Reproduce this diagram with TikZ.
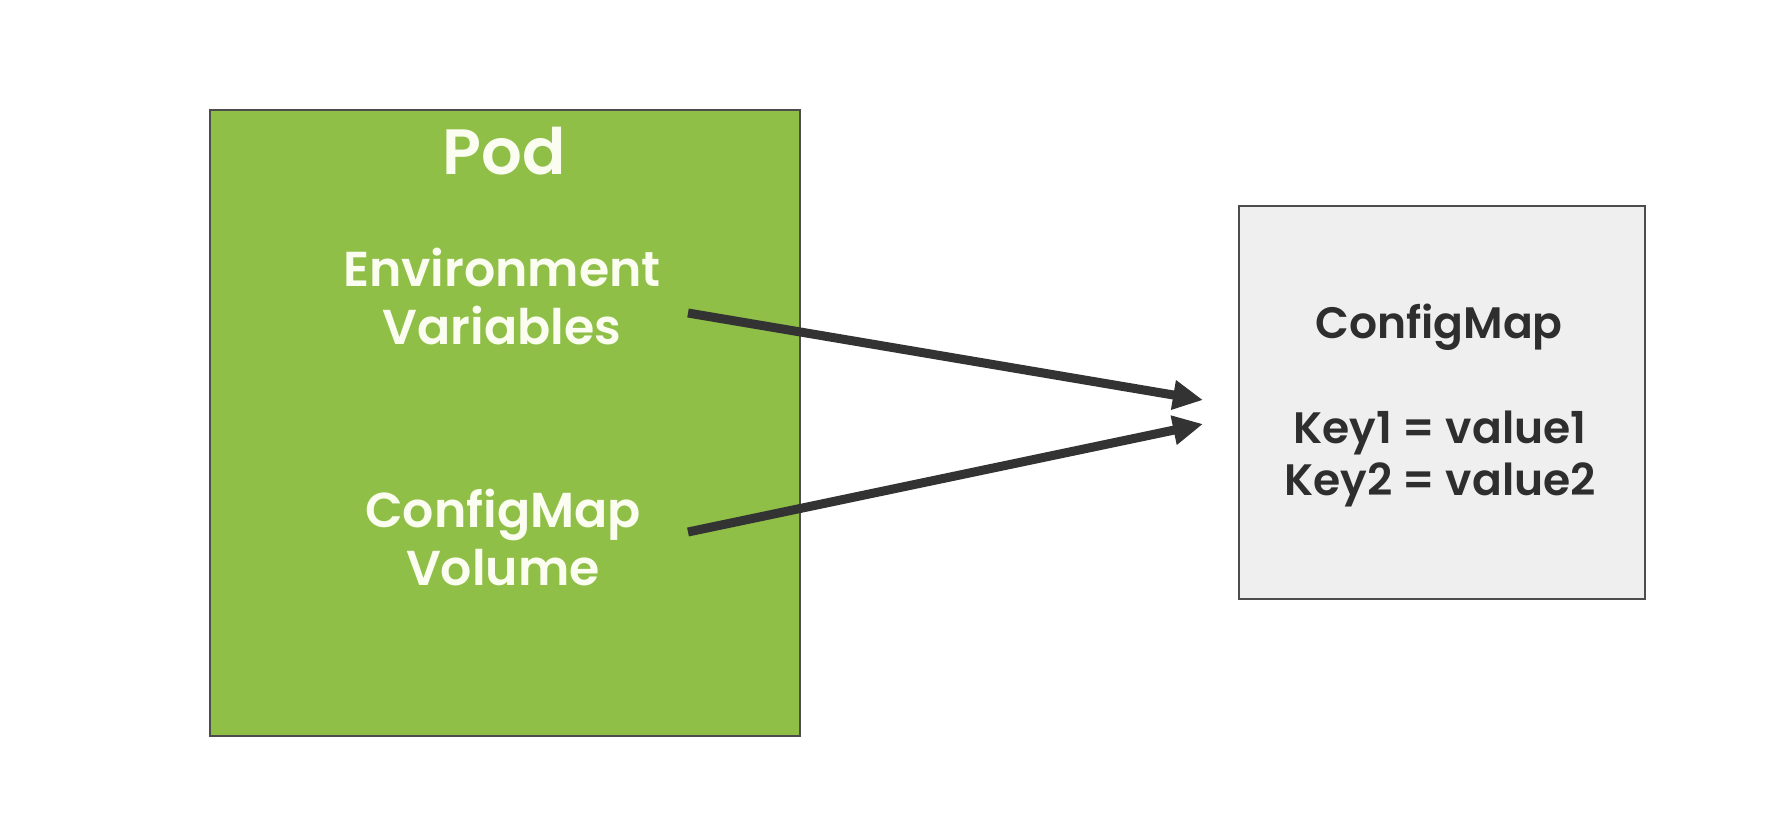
\documentclass[tikz,border=0pt]{standalone}
\usepackage{fontspec}
\setmainfont{Poppins}
\IfFontExistsTF{Poppins SemiBold}
  {\newfontfamily\pfont{Poppins SemiBold}}
  {\newcommand\pfont{\bfseries}}
\usetikzlibrary{arrows.meta}
\definecolor{podgreen}{HTML}{8FBF47}
\definecolor{podtext}{HTML}{FAFDF0}
\definecolor{cmfill}{HTML}{EFEFEF}
\definecolor{boxline}{HTML}{4D4D4D}
\definecolor{arrowc}{HTML}{333333}
\definecolor{cmtext}{HTML}{2E2E2E}
\tikzset{
  podbox/.style={draw=boxline, line width=1pt, fill=podgreen, inner sep=0pt, anchor=north west},
  cmbox/.style={draw=boxline, line width=1pt, fill=cmfill, inner sep=0pt, anchor=north west},
  podlabel/.style={text=podtext, font=\pfont\fontsize{24.5pt}{29pt}\selectfont, align=center, anchor=base, inner sep=0pt},
  cmlabel/.style={text=cmtext, font=\pfont\fontsize{22pt}{26pt}\selectfont, align=center, anchor=base, inner sep=0pt},
  link/.style={draw=arrowc, line width=4.5pt, -{Triangle[length=15pt,width=14pt]}}
}
\begin{document}
\begin{tikzpicture}[x=0.5pt,y=-0.5pt]
\useasboundingbox[fill=white] (0,0) rectangle (1774,825);
\node[podbox, minimum width=295pt, minimum height=313pt] (pod) at (209,109) {};
\node[cmbox, minimum width=203pt, minimum height=196.5pt] (cm) at (1238,205) {};
\node[text=podtext, font=\pfont\fontsize{32pt}{36pt}\selectfont, anchor=base, inner sep=0pt] (podtitle) at (504,174) {Pod};
\node[podlabel] (env) at (502,344) {Environment\\Variables};
\node[podlabel] (vol) at (503,585) {ConfigMap\\Volume};
\node[cmlabel] (cmtitle) at (1439,338) {ConfigMap};
\node[cmlabel] (keys) at (1440,495) {Key1 = value1\\Key2 = value2};
\coordinate (envout) at (688,313);
\coordinate (volout) at (688,532);
\coordinate (cmin1) at (1203,400);
\coordinate (cmin2) at (1203,424);
\draw[link] (envout) -- (cmin1);
\draw[link] (volout) -- (cmin2);
\end{tikzpicture}
\end{document}
